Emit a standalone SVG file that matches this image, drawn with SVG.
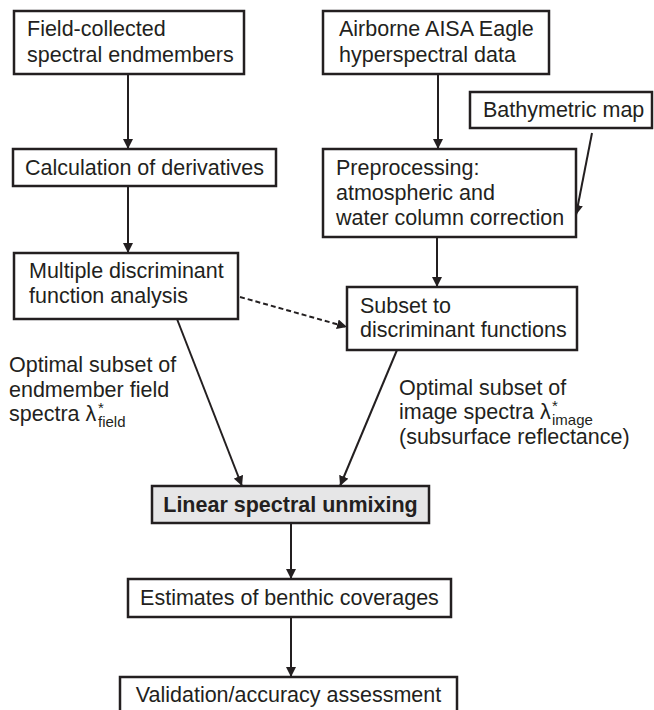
<svg xmlns="http://www.w3.org/2000/svg" width="654" height="710" viewBox="0 0 654 710">
<style>
.box{fill:#fff;stroke:#231f20;stroke-width:2.5}
.hl{fill:#e6e6e7}
.t{font-family:"Liberation Sans",Arial,sans-serif;font-size:21.5px;fill:#231f20}
.b{font-weight:bold}
.s{font-size:15px}
.c{fill:none;stroke:#231f20;stroke-width:2}
.d{stroke-dasharray:5,3}
</style>
<defs>
<marker id="ah" viewBox="0 0 10 10" refX="10" refY="5" markerWidth="5" markerHeight="5" orient="auto" markerUnits="strokeWidth">
<path d="M0,0 L10,5 L0,10 z" fill="#231f20"/>
</marker>
</defs>
<rect width="654" height="710" fill="#fff"/>
<g id="connectors">
<line class="c" x1="128" y1="74" x2="128" y2="149" marker-end="url(#ah)"/>
<line class="c" x1="128" y1="186" x2="128" y2="253" marker-end="url(#ah)"/>
<line class="c" x1="438" y1="74" x2="438" y2="149" marker-end="url(#ah)"/>
<line class="c" x1="592" y1="133" x2="576" y2="215" marker-end="url(#ah)"/>
<line class="c" x1="437" y1="237" x2="437" y2="287" marker-end="url(#ah)"/>
<line class="c d" x1="240" y1="297" x2="347" y2="327" marker-end="url(#ah)"/>
<line class="c" x1="177" y1="319" x2="242" y2="486" marker-end="url(#ah)"/>
<line class="c" x1="397" y1="350" x2="340" y2="486" marker-end="url(#ah)"/>
<line class="c" x1="291" y1="523" x2="291" y2="579" marker-end="url(#ah)"/>
<line class="c" x1="291" y1="617" x2="291" y2="677" marker-end="url(#ah)"/>
</g>
<g id="field">
<rect class="box" x="14" y="11" width="230" height="63"/>
<text class="t" x="27" y="36">Field-collected</text>
<text class="t" x="27" y="62">spectral endmembers</text>
</g>
<g id="calc">
<rect class="box" x="13" y="149" width="263" height="37"/>
<text class="t" x="25" y="175">Calculation of derivatives</text>
</g>
<g id="mdfa">
<rect class="box" x="14" y="253" width="224" height="66"/>
<text class="t" x="29" y="278">Multiple discriminant</text>
<text class="t" x="29" y="303">function analysis</text>
</g>
<g id="airborne">
<rect class="box" x="323" y="11" width="226" height="63"/>
<text class="t" x="339" y="36">Airborne AISA Eagle</text>
<text class="t" x="339" y="62">hyperspectral data</text>
</g>
<g id="bathy">
<rect class="box" x="470" y="92" width="182" height="36"/>
<text class="t" x="483" y="117">Bathymetric map</text>
</g>
<g id="preproc">
<rect class="box" x="323" y="149" width="253" height="88"/>
<text class="t" x="336" y="175">Preprocessing:</text>
<text class="t" x="336" y="200">atmospheric and</text>
<text class="t" x="336" y="225">water column correction</text>
</g>
<g id="subset">
<rect class="box" x="347" y="287" width="230" height="63"/>
<text class="t" x="360" y="313">Subset to</text>
<text class="t" x="360" y="337">discriminant functions</text>
</g>
<g id="label-field">
<text class="t" x="9" y="372">Optimal subset of</text>
<text class="t" x="9" y="397">endmember field</text>
<text class="t" x="9" y="421">spectra λ</text>
<text class="t s" x="98" y="413">*</text>
<text class="t s" x="98" y="427">field</text>
</g>
<g id="label-image">
<text class="t" x="399" y="395">Optimal subset of</text>
<text class="t" x="399" y="419">image spectra λ</text>
<text class="t s" x="552" y="411">*</text>
<text class="t s" x="552" y="425">image</text>
<text class="t" x="399" y="444">(subsurface reflectance)</text>
</g>
<g id="unmix">
<rect class="box hl" x="152" y="486" width="277" height="37"/>
<text class="t b" x="290.5" y="512" text-anchor="middle">Linear spectral unmixing</text>
</g>
<g id="estimates">
<rect class="box" x="128" y="579" width="323" height="38"/>
<text class="t" x="289.5" y="605" text-anchor="middle">Estimates of benthic coverages</text>
</g>
<g id="validation">
<rect class="box" x="120" y="677" width="337" height="45"/>
<text class="t" x="288.5" y="702" text-anchor="middle">Validation/accuracy assessment</text>
</g>
</svg>
